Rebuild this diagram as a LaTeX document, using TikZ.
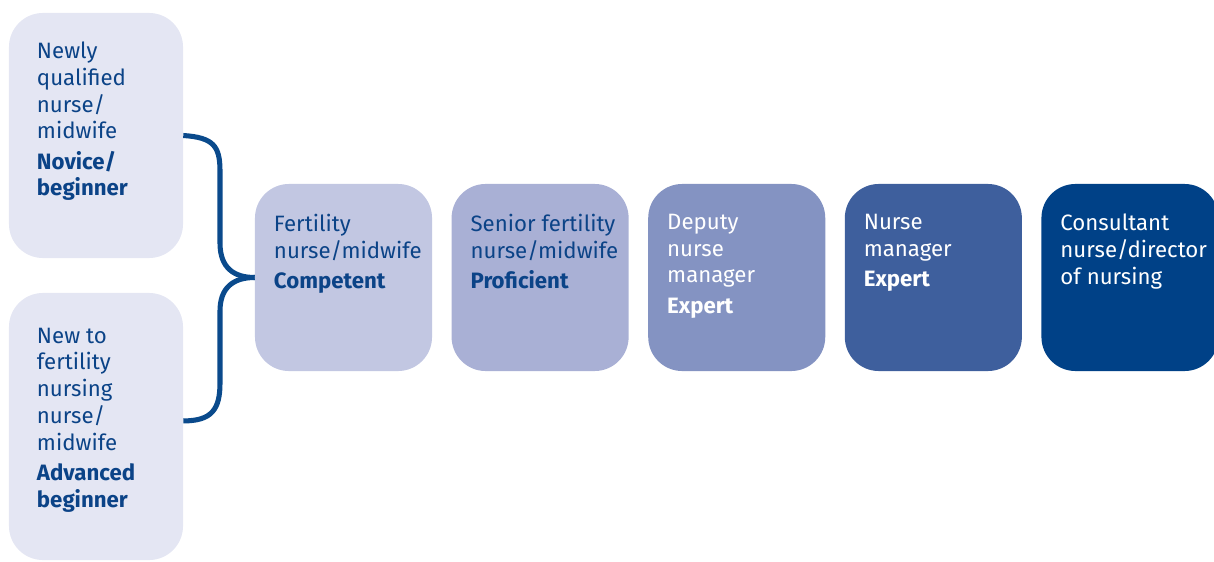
\documentclass[tikz,border=0pt]{standalone}
\usepackage{fontspec}
\setmainfont{Fira Sans}
\usetikzlibrary{positioning}
\definecolor{navytext}{HTML}{0B4387}
\definecolor{bracecol}{HTML}{0A4A8C}
\definecolor{startfill}{HTML}{E4E6F3}
\definecolor{compfill}{HTML}{C2C7E2}
\definecolor{proffill}{HTML}{A9B0D5}
\definecolor{deputyfill}{HTML}{8493C2}
\definecolor{managerfill}{HTML}{3E5F9D}
\definecolor{consultfill}{HTML}{004187}
\tikzset{
  stage/.style={rounded corners=0.85cm, minimum width=4.425cm, minimum height=4.675cm, inner sep=0pt},
  start/.style={rounded corners=0.85cm, minimum width=4.35cm, inner sep=0pt, fill=startfill},
  stagetext/.style={anchor=north west, align=left, inner sep=0pt, text=navytext,
    font=\fontsize{15.8}{19}\selectfont},
  brace/.style={line width=3.6pt, draw=bracecol}
}
\begin{document}
\begin{tikzpicture}[x=0.025cm,y=0.025cm]
    \useasboundingbox (0,0) rectangle (1214,561);
    % entry points
    \node[start, minimum height=6.125cm] (newly) at (96,425.5) {};
    \node[start, minimum height=6.675cm] (newto) at (96,134.5) {};
    \node[stagetext] (newlytxt) at ([shift={(28,-29)}]newly.north west)
        {Newly\\qualified\\nurse/\\midwife\\[2.6pt]\textbf{Novice/}\\\textbf{beginner}};
    \node[stagetext] (newtotxt) at ([shift={(28,-35)}]newto.north west)
        {New to\\fertility\\nursing\\nurse/\\midwife\\[2.6pt]\textbf{Advanced}\\\textbf{beginner}};
    % career stages
    \node[stage, fill=compfill] (comp) at (343.5,283.5) {};
    \node[stage, fill=proffill, right=0.475cm of comp] (prof) {};
    \node[stage, fill=deputyfill, right=0.475cm of prof] (deputy) {};
    \node[stage, fill=managerfill, right=0.475cm of deputy] (manager) {};
    \node[stage, fill=consultfill, right=0.475cm of manager] (consult) {};
    \node[stagetext] (comptxt) at ([shift={(19,-30)}]comp.north west)
        {Fertility\\nurse/midwife\\[2.8pt]\textbf{Competent}};
    \node[stagetext] (proftxt) at ([shift={(19,-30)}]prof.north west)
        {Senior fertility\\nurse/midwife\\[2.8pt]\textbf{Proficient}};
    \node[stagetext, text=white] (deputytxt) at ([shift={(19,-30)}]deputy.north west)
        {Deputy\\nurse\\manager\\[2.8pt]\textbf{Expert}};
    \node[stagetext, text=white] (managertxt) at ([shift={(19,-30)}]manager.north west)
        {Nurse\\manager\\[2.8pt]\textbf{Expert}};
    \node[stagetext, text=white] (consulttxt) at ([shift={(19,-30)}]consult.north west)
        {Consultant\\nurse/director\\of nursing};
    % brace
    \draw[brace] (newly.east) .. controls +(30,-2) and (220,415) .. (220,390)
        -- (220,318) .. controls (220,293) and (234,283.5) .. (comp.west);
    \draw[brace] (comp.west) .. controls (234,283.5) and (220,274) .. (220,250)
        -- (220,178) .. controls (220,152) and (212,140) .. ([yshift=0.14cm]newto.east);
\end{tikzpicture}
\end{document}
